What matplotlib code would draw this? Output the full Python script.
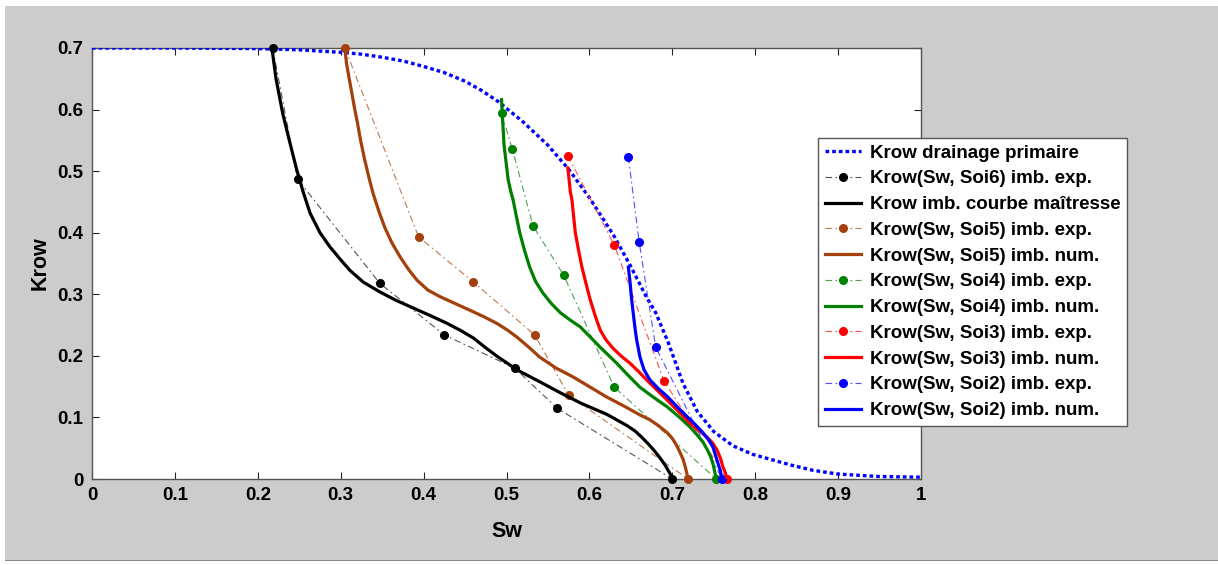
import matplotlib
matplotlib.use("Agg")
import matplotlib.pyplot as plt
from matplotlib.patches import Rectangle

# ---------------- data ----------------
drain_sw = [0, 0.1, 0.2, 0.25, 0.3, 0.325, 0.35, 0.375, 0.40, 0.425, 0.45, 0.47, 0.49, 0.52, 0.55, 0.575,
            0.60, 0.63, 0.65, 0.669, 0.68, 0.695, 0.713, 0.73, 0.75, 0.773, 0.797, 0.821, 0.842, 0.87,
            0.9, 0.95, 1.0]
drain_kr = [0.7, 0.7, 0.699, 0.697, 0.693, 0.69, 0.685, 0.679, 0.670, 0.660, 0.646, 0.631, 0.613, 0.58,
            0.542, 0.503, 0.457, 0.394, 0.345, 0.295, 0.27, 0.222, 0.155, 0.11, 0.077, 0.054, 0.04,
            0.031, 0.023, 0.014, 0.008, 0.004, 0.003]

soi6_exp_sw = [0.218, 0.248, 0.347, 0.425, 0.51, 0.561, 0.70]
soi6_exp_kr = [0.70, 0.487, 0.318, 0.234, 0.18, 0.115, 0.0]

master_sw = [0.217, 0.222, 0.23, 0.238, 0.247, 0.255, 0.263, 0.275, 0.287, 0.30, 0.311, 0.327, 0.347,
             0.367, 0.387, 0.407, 0.428, 0.445, 0.46, 0.475, 0.49, 0.513, 0.54, 0.565, 0.59, 0.621, 0.645,
             0.655, 0.663, 0.671, 0.677, 0.683, 0.688, 0.692, 0.695, 0.698, 0.70]
master_kr = [0.70, 0.65, 0.594, 0.55, 0.502, 0.465, 0.432, 0.40, 0.377, 0.356, 0.339, 0.32, 0.304, 0.29,
             0.278, 0.266, 0.253, 0.241, 0.229, 0.213, 0.198, 0.177, 0.158, 0.14, 0.123, 0.105, 0.087,
             0.078, 0.068, 0.057, 0.048, 0.038, 0.029, 0.021, 0.014, 0.007, 0.0]

soi5_exp_sw = [0.305, 0.394, 0.46, 0.534, 0.575, 0.719]
soi5_exp_kr = [0.70, 0.393, 0.32, 0.234, 0.136, 0.0]

soi5_num_sw = [0.305, 0.307, 0.310, 0.313, 0.317, 0.320, 0.324, 0.329, 0.334, 0.339, 0.346, 0.353, 0.362,
               0.372, 0.382, 0.392, 0.405, 0.42, 0.438, 0.456, 0.472, 0.488, 0.501, 0.513, 0.527, 0.54,
               0.56, 0.58, 0.60, 0.621, 0.641, 0.661, 0.672, 0.683, 0.694, 0.700, 0.705, 0.709, 0.713,
               0.716, 0.719]
soi5_num_kr = [0.70, 0.675, 0.652, 0.63, 0.60, 0.58, 0.55, 0.518, 0.49, 0.464, 0.435, 0.409, 0.383,
               0.36, 0.34, 0.323, 0.307, 0.296, 0.285, 0.274, 0.264, 0.253, 0.242, 0.23, 0.214, 0.198,
               0.18, 0.166, 0.15, 0.133, 0.119, 0.104, 0.097, 0.087, 0.075, 0.066, 0.055, 0.044, 0.032,
               0.018, 0.0]

soi4_exp_sw = [0.494, 0.507, 0.532, 0.569, 0.63, 0.753]
soi4_exp_kr = [0.594, 0.536, 0.411, 0.331, 0.149, 0.0]

soi4_num_sw = [0.494, 0.495, 0.496, 0.497, 0.499, 0.502, 0.505, 0.508, 0.512, 0.516, 0.522, 0.528, 0.535,
               0.544, 0.554, 0.565, 0.577, 0.589, 0.60, 0.613, 0.633, 0.647, 0.661, 0.677, 0.694, 0.708,
               0.721, 0.729, 0.737, 0.742, 0.746, 0.749, 0.751, 0.753]
soi4_num_kr = [0.616, 0.59, 0.567, 0.543, 0.52, 0.486, 0.468, 0.453, 0.426, 0.40, 0.37, 0.344, 0.321,
               0.302, 0.285, 0.27, 0.258, 0.247, 0.232, 0.214, 0.188, 0.168, 0.149, 0.133, 0.117, 0.101,
               0.085, 0.073, 0.06, 0.048, 0.037, 0.025, 0.013, 0.0]

soi3_exp_sw = [0.574, 0.63, 0.69, 0.766]
soi3_exp_kr = [0.525, 0.38, 0.159, 0.0]

soi3_num_sw = [0.574, 0.575, 0.576, 0.577, 0.579, 0.581, 0.583, 0.587, 0.591, 0.596, 0.601, 0.607, 0.613,
               0.620, 0.628, 0.638, 0.649, 0.659, 0.669, 0.681, 0.694, 0.708, 0.721, 0.732, 0.742, 0.749,
               0.754, 0.758, 0.761, 0.764, 0.766]
soi3_num_kr = [0.505, 0.493, 0.48, 0.466, 0.453, 0.426, 0.40, 0.371, 0.344, 0.317, 0.291, 0.265, 0.242,
               0.226, 0.213, 0.2, 0.188, 0.175, 0.161, 0.145, 0.128, 0.109, 0.091, 0.079, 0.068, 0.058,
               0.047, 0.034, 0.02, 0.01, 0.0]

soi2_exp_sw = [0.647, 0.66, 0.68, 0.76]
soi2_exp_kr = [0.523, 0.385, 0.214, 0.0]

soi2_num_sw = [0.647, 0.648, 0.649, 0.650, 0.651, 0.653, 0.655, 0.657, 0.661, 0.666, 0.673, 0.683, 0.694,
               0.706, 0.718, 0.728, 0.737, 0.744, 0.749, 0.752, 0.755, 0.758, 0.76]
soi2_num_kr = [0.344, 0.332, 0.32, 0.305, 0.291, 0.268, 0.245, 0.226, 0.198, 0.177, 0.161, 0.147, 0.134,
               0.117, 0.101, 0.088, 0.075, 0.063, 0.052, 0.039, 0.026, 0.013, 0.0]

labels = ["Krow drainage primaire",
          "Krow(Sw, Soi6) imb. exp.",
          "Krow imb. courbe maîtresse",
          "Krow(Sw, Soi5) imb. exp.",
          "Krow(Sw, Soi5) imb. num.",
          "Krow(Sw, Soi4) imb. exp.",
          "Krow(Sw, Soi4) imb. num.",
          "Krow(Sw, Soi3) imb. exp.",
          "Krow(Sw, Soi3) imb. num.",
          "Krow(Sw, Soi2) imb. exp.",
          "Krow(Sw, Soi2) imb. num."]

x_ticks = [0, 0.1, 0.2, 0.3, 0.4, 0.5, 0.6, 0.7, 0.8, 0.9, 1]
y_ticks = [0, 0.1, 0.2, 0.3, 0.4, 0.5, 0.6, 0.7]

# ---------------- style ----------------
plt.rcParams['font.family'] = ['Liberation Sans', 'DejaVu Sans']
plt.rcParams['font.weight'] = 'bold'

BROWN = '#a3400c'
GREEN = '#008000'
RED = '#ff0000'
BLUE = '#0000ff'
BLACK = '#000000'

fig = plt.figure(figsize=(12.18, 5.65), dpi=100, facecolor='white')
# gray panel
fig.patches.append(Rectangle((5 / 1218, 4 / 565), 1 - 5 / 1218, 1 - 10 / 565,
                             transform=fig.transFigure, facecolor='#cccccc',
                             edgecolor='none', zorder=-10))
fig.patches.append(Rectangle((5 / 1218, 4 / 565), 1 - 5 / 1218, 1 / 565,
                             transform=fig.transFigure, facecolor='#8a8a8a',
                             edgecolor='none', zorder=-9))

ax = fig.add_axes([92 / 1218, 1 - 479 / 565, (921 - 92) / 1218, (479 - 48) / 565])
ax.set_facecolor('white')

num_lw = 2.3
exp_lw = 0.8
ms = 5.5

ax.plot(drain_sw, drain_kr, color=BLUE, lw=2.4, dashes=(1.1, 0.9), dash_capstyle='butt',
        label=labels[0], zorder=3)


def exp_plot(sw, kr, c, lab, lc=None):
    ax.plot(sw, kr, color=lc or c, lw=exp_lw, dashes=(6, 3, 1.5, 3), marker='o', ms=ms,
            mfc=c, mec=c, label=lab, clip_on=False, zorder=4)


exp_plot(soi6_exp_sw, soi6_exp_kr, BLACK, labels[1], lc='#555555')
ax.plot(master_sw, master_kr, color=BLACK, lw=num_lw, label=labels[2], zorder=5)
exp_plot(soi5_exp_sw, soi5_exp_kr, BROWN, labels[3], lc='#c07850')
ax.plot(soi5_num_sw, soi5_num_kr, color=BROWN, lw=num_lw, label=labels[4], zorder=5)
exp_plot(soi4_exp_sw, soi4_exp_kr, GREEN, labels[5], lc='#50a050')
ax.plot(soi4_num_sw, soi4_num_kr, color=GREEN, lw=num_lw, label=labels[6], zorder=5)
exp_plot(soi3_exp_sw, soi3_exp_kr, RED, labels[7], lc='#ff5050')
ax.plot(soi3_num_sw, soi3_num_kr, color=RED, lw=num_lw, label=labels[8], zorder=5)
exp_plot(soi2_exp_sw, soi2_exp_kr, BLUE, labels[9], lc='#5050ff')
ax.plot(soi2_num_sw, soi2_num_kr, color=BLUE, lw=num_lw, label=labels[10], zorder=5)

ax.set_xlim(0, 1)
ax.set_ylim(0, 0.7)
ax.set_xticks(x_ticks)
ax.set_yticks(y_ticks)
ax.set_xticklabels([f"{v:g}" for v in x_ticks])
ax.set_yticklabels([f"{v:g}" for v in y_ticks])
ax.tick_params(direction='in', length=5, width=0.8, top=True, right=True,
               labelsize=13.5, colors='#222222', pad=6)
ax.tick_params(axis='x', pad=6)
for t in ax.get_xticklabels() + ax.get_yticklabels():
    t.set_fontweight('bold')
    t.set_color('black')
for s in ax.spines.values():
    s.set_color('#555555')
    s.set_linewidth(1.0)

ax.set_xlabel('Sw', fontsize=15.5, fontweight='bold', labelpad=12)
ax.set_ylabel('Krow', fontsize=15.5, fontweight='bold', labelpad=5)

leg = ax.legend(loc='upper left', bbox_to_anchor=(818 / 1218, 1 - 138 / 565),
                bbox_transform=fig.transFigure, fontsize=13.5, frameon=True, fancybox=False,
                framealpha=1, edgecolor='#555555', labelspacing=0.46, handlelength=1.95,
                handletextpad=0.45, borderpad=0.35, borderaxespad=0, numpoints=1)
leg.get_frame().set_linewidth(1.0)
for t in leg.get_texts():
    t.set_fontweight('bold')
leg.set_zorder(10)

fig.savefig('out.png', dpi=100, facecolor=fig.get_facecolor())
